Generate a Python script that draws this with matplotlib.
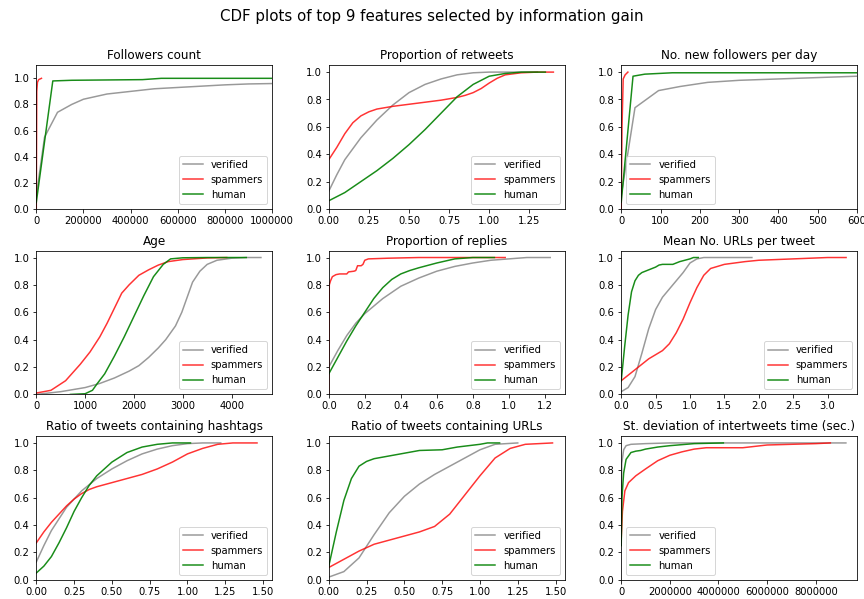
import matplotlib
matplotlib.use("Agg")
import matplotlib.pyplot as plt

# series labels / colours
labels = ["verified", "spammers", "human"]
colors = ["gray", "red", "green"]
alphas = [0.8, 0.8, 0.9]

titles = ["Followers count", "Proportion of retweets", "No. new followers per day",
          "Age", "Proportion of replies", "Mean No. URLs per tweet",
          "Ratio of tweets containing hashtags", "Ratio of tweets containing URLs",
          "St. deviation of intertweets time (sec.)"]

# 1 - followers count
fol_ver_x = [0, 35000, 90000, 150000, 200000, 300000, 400000, 500000, 600000, 700000, 800000, 900000, 1000000]
fol_ver_y = [0.1, 0.55, 0.74, 0.80, 0.84, 0.88, 0.90, 0.92, 0.93, 0.94, 0.95, 0.957, 0.96]
fol_spa_x = [0, 2000, 5000, 10000, 22000]
fol_spa_y = [0.0, 0.9, 0.97, 0.99, 1.0]
fol_hum_x = [0, 70000, 150000, 450000, 530000, 1000000]
fol_hum_y = [0.05, 0.98, 0.985, 0.99, 1.0, 1.0]

# 2 - proportion of retweets
ret_ver_x = [0, 0.05, 0.1, 0.2, 0.3, 0.4, 0.5, 0.6, 0.7, 0.8, 0.9, 1.0, 1.2, 1.3]
ret_ver_y = [0.13, 0.25, 0.36, 0.52, 0.65, 0.76, 0.85, 0.91, 0.95, 0.98, 0.995, 1.0, 1.0, 1.0]
ret_spa_x = [0, 0.05, 0.1, 0.15, 0.2, 0.25, 0.3, 0.4, 0.5, 0.6, 0.7, 0.8, 0.85, 0.9, 0.95, 1.0, 1.05, 1.1, 1.2, 1.3, 1.4]
ret_spa_y = [0.36, 0.45, 0.55, 0.63, 0.68, 0.71, 0.73, 0.75, 0.765, 0.78, 0.795, 0.815, 0.83, 0.85, 0.88, 0.92, 0.955, 0.98, 0.995, 1.0, 1.0]
ret_hum_x = [0, 0.1, 0.2, 0.3, 0.4, 0.5, 0.6, 0.7, 0.8, 0.9, 1.0, 1.1, 1.2, 1.35]
ret_hum_y = [0.06, 0.12, 0.2, 0.28, 0.37, 0.47, 0.58, 0.7, 0.82, 0.91, 0.97, 0.99, 1.0, 1.0]

# 3 - new followers per day
nfd_ver_x = [0, 35, 95, 150, 220, 300, 400, 500, 600]
nfd_ver_y = [0.1, 0.74, 0.865, 0.895, 0.925, 0.94, 0.95, 0.96, 0.97]
nfd_spa_x = [0, 2, 5, 10, 17]
nfd_spa_y = [0.0, 0.6, 0.95, 0.98, 1.0]
nfd_hum_x = [0, 30, 60, 130, 600]
nfd_hum_y = [0.05, 0.97, 0.985, 0.995, 0.995]

# 4 - age
age_ver_x = [0, 500, 1000, 1300, 1600, 1900, 2100, 2300, 2500, 2650, 2850, 2980, 3100, 3200, 3350, 3500, 3700, 4000, 4300, 4600]
age_ver_y = [0.0, 0.02, 0.05, 0.08, 0.12, 0.17, 0.21, 0.27, 0.34, 0.4, 0.5, 0.6, 0.72, 0.82, 0.9, 0.95, 0.98, 0.995, 1.0, 1.0]
age_spa_x = [0, 300, 600, 900, 1100, 1300, 1450, 1600, 1750, 1900, 2100, 2300, 2500, 2700, 3000, 3500, 3900]
age_spa_y = [0.01, 0.03, 0.1, 0.22, 0.31, 0.42, 0.52, 0.63, 0.74, 0.8, 0.87, 0.91, 0.945, 0.97, 0.985, 0.997, 1.0]
age_hum_x = [700, 1000, 1150, 1250, 1400, 1600, 1800, 2000, 2200, 2400, 2600, 2750, 3000, 3500, 4300]
age_hum_y = [0.0, 0.005, 0.03, 0.08, 0.15, 0.28, 0.42, 0.57, 0.72, 0.86, 0.95, 0.99, 0.998, 1.0, 1.0]

# 5 - proportion of replies
rep_ver_x = [0, 0.05, 0.1, 0.15, 0.2, 0.3, 0.4, 0.5, 0.6, 0.7, 0.8, 0.9, 1.0, 1.1, 1.23]
rep_ver_y = [0.2, 0.32, 0.43, 0.52, 0.59, 0.7, 0.79, 0.85, 0.9, 0.935, 0.96, 0.98, 0.99, 1.0, 1.0]
rep_spa_x = [0, 0.003, 0.01, 0.02, 0.04, 0.06, 0.1, 0.11, 0.14, 0.15, 0.16, 0.18, 0.19, 0.2, 0.22, 0.33, 0.5, 0.98]
rep_spa_y = [0.0, 0.8, 0.83, 0.86, 0.875, 0.88, 0.88, 0.895, 0.9, 0.905, 0.94, 0.94, 0.95, 0.98, 0.99, 0.995, 1.0, 1.0]
rep_hum_x = [0, 0.05, 0.1, 0.15, 0.2, 0.25, 0.3, 0.35, 0.4, 0.45, 0.5, 0.6, 0.7, 0.8, 0.92]
rep_hum_y = [0.15, 0.27, 0.39, 0.5, 0.6, 0.7, 0.78, 0.84, 0.88, 0.905, 0.925, 0.96, 0.99, 1.0, 1.0]

# 6 - mean no. URLs per tweet
url_ver_x = [0, 0.1, 0.2, 0.3, 0.4, 0.5, 0.6, 0.7, 0.8, 0.9, 1.0, 1.1, 1.2, 1.9]
url_ver_y = [0.02, 0.05, 0.13, 0.3, 0.48, 0.62, 0.71, 0.77, 0.83, 0.89, 0.96, 0.99, 1.0, 1.0]
url_spa_x = [0, 0.2, 0.3, 0.4, 0.5, 0.6, 0.7, 0.8, 0.9, 1.0, 1.1, 1.2, 1.3, 1.5, 1.8, 2.0, 2.5, 3.0, 3.27]
url_spa_y = [0.1, 0.18, 0.22, 0.26, 0.29, 0.32, 0.37, 0.45, 0.55, 0.67, 0.78, 0.87, 0.92, 0.95, 0.97, 0.98, 0.99, 1.0, 1.0]
url_hum_x = [0, 0.05, 0.1, 0.15, 0.2, 0.25, 0.3, 0.4, 0.5, 0.55, 0.6, 0.75, 0.85, 1.0, 1.05, 1.12]
url_hum_y = [0.1, 0.35, 0.58, 0.75, 0.83, 0.87, 0.89, 0.91, 0.93, 0.945, 0.95, 0.95, 0.97, 0.99, 1.0, 1.0]

# 7 - ratio of tweets containing hashtags
hsh_ver_x = [0, 0.05, 0.1, 0.2, 0.3, 0.4, 0.5, 0.6, 0.7, 0.8, 0.9, 1.0, 1.1, 1.22]
hsh_ver_y = [0.13, 0.25, 0.36, 0.53, 0.65, 0.74, 0.81, 0.87, 0.92, 0.955, 0.98, 0.995, 1.0, 1.0]
hsh_spa_x = [0, 0.05, 0.1, 0.2, 0.25, 0.3, 0.35, 0.4, 0.5, 0.6, 0.7, 0.8, 0.9, 1.0, 1.1, 1.2, 1.3, 1.46]
hsh_spa_y = [0.27, 0.35, 0.42, 0.54, 0.59, 0.63, 0.66, 0.68, 0.71, 0.74, 0.77, 0.81, 0.86, 0.92, 0.96, 0.99, 1.0, 1.0]
hsh_hum_x = [0, 0.05, 0.1, 0.15, 0.2, 0.25, 0.3, 0.35, 0.4, 0.5, 0.6, 0.7, 0.8, 0.9, 1.02]
hsh_hum_y = [0.05, 0.1, 0.17, 0.27, 0.38, 0.5, 0.6, 0.69, 0.76, 0.86, 0.93, 0.97, 0.99, 1.0, 1.0]

# 8 - ratio of tweets containing URLs
rurl_ver_x = [0, 0.1, 0.2, 0.3, 0.4, 0.5, 0.6, 0.7, 0.8, 0.9, 1.0, 1.1, 1.25]
rurl_ver_y = [0.02, 0.06, 0.16, 0.33, 0.49, 0.61, 0.7, 0.77, 0.83, 0.89, 0.95, 0.99, 1.0]
rurl_spa_x = [0, 0.1, 0.2, 0.3, 0.4, 0.5, 0.6, 0.7, 0.8, 0.9, 1.0, 1.1, 1.2, 1.3, 1.48]
rurl_spa_y = [0.09, 0.15, 0.21, 0.26, 0.29, 0.32, 0.35, 0.39, 0.48, 0.62, 0.76, 0.89, 0.96, 0.99, 1.0]
rurl_hum_x = [0, 0.05, 0.1, 0.15, 0.2, 0.25, 0.3, 0.4, 0.5, 0.6, 0.75, 0.85, 1.0, 1.05, 1.13]
rurl_hum_y = [0.1, 0.35, 0.58, 0.74, 0.83, 0.865, 0.885, 0.905, 0.925, 0.945, 0.95, 0.97, 0.99, 1.0, 1.0]

# 9 - st. deviation of intertweets time
std_ver_x = [0, 20000, 100000, 200000, 400000, 1000000, 2000000, 9240000]
std_ver_y = [0.3, 0.85, 0.95, 0.98, 0.99, 0.995, 1.0, 1.0]
std_spa_x = [0, 50000, 150000, 300000, 600000, 1000000, 1500000, 2000000, 2500000, 3000000, 3500000, 5000000, 6000000, 7000000, 8000000, 8600000]
std_spa_y = [0.3, 0.5, 0.65, 0.71, 0.76, 0.81, 0.87, 0.91, 0.935, 0.955, 0.965, 0.965, 0.985, 0.99, 0.995, 1.0]
std_hum_x = [0, 30000, 100000, 200000, 400000, 600000, 800000, 1000000, 1500000, 2000000, 3000000, 4200000]
std_hum_y = [0.25, 0.6, 0.78, 0.88, 0.93, 0.94, 0.945, 0.955, 0.97, 0.98, 0.995, 1.0]

panels = [
    [(fol_ver_x, fol_ver_y), (fol_spa_x, fol_spa_y), (fol_hum_x, fol_hum_y)],
    [(ret_ver_x, ret_ver_y), (ret_spa_x, ret_spa_y), (ret_hum_x, ret_hum_y)],
    [(nfd_ver_x, nfd_ver_y), (nfd_spa_x, nfd_spa_y), (nfd_hum_x, nfd_hum_y)],
    [(age_ver_x, age_ver_y), (age_spa_x, age_spa_y), (age_hum_x, age_hum_y)],
    [(rep_ver_x, rep_ver_y), (rep_spa_x, rep_spa_y), (rep_hum_x, rep_hum_y)],
    [(url_ver_x, url_ver_y), (url_spa_x, url_spa_y), (url_hum_x, url_hum_y)],
    [(hsh_ver_x, hsh_ver_y), (hsh_spa_x, hsh_spa_y), (hsh_hum_x, hsh_hum_y)],
    [(rurl_ver_x, rurl_ver_y), (rurl_spa_x, rurl_spa_y), (rurl_hum_x, rurl_hum_y)],
    [(std_ver_x, std_ver_y), (std_spa_x, std_spa_y), (std_hum_x, std_hum_y)],
]

xlims = [1000000, 1.47, 600, 4830, 1.31, 3.43, 1.56, 1.56, 9700000]
legend_locs = ["lower right", "lower right", "lower left",
               "lower right", "lower right", "lower right",
               "lower right", "lower right", "lower left"]

fig, axes = plt.subplots(3, 3, figsize=(12, 8.32))
fig.subplots_adjust(left=0.042, right=0.992, bottom=0.032, top=0.891, wspace=0.24, hspace=0.29)
fig.suptitle("CDF plots of top 9 features selected by information gain", fontsize=15, y=0.985)

for i, ax in enumerate(axes.flat):
    for (xs, ys), lab, col, al in zip(panels[i], labels, colors, alphas):
        ax.plot(xs, ys, color=col, alpha=al, label=lab, lw=1.5)
    ax.set_title(titles[i], fontsize=12)
    ax.set_xlim(0, xlims[i])
    ax.set_ylim(0, 1.1 if i == 0 else 1.05)
    ax.ticklabel_format(style="plain", axis="x")
    ax.legend(loc=legend_locs[i], fontsize=10)

fig.savefig("out.png", dpi=72)
